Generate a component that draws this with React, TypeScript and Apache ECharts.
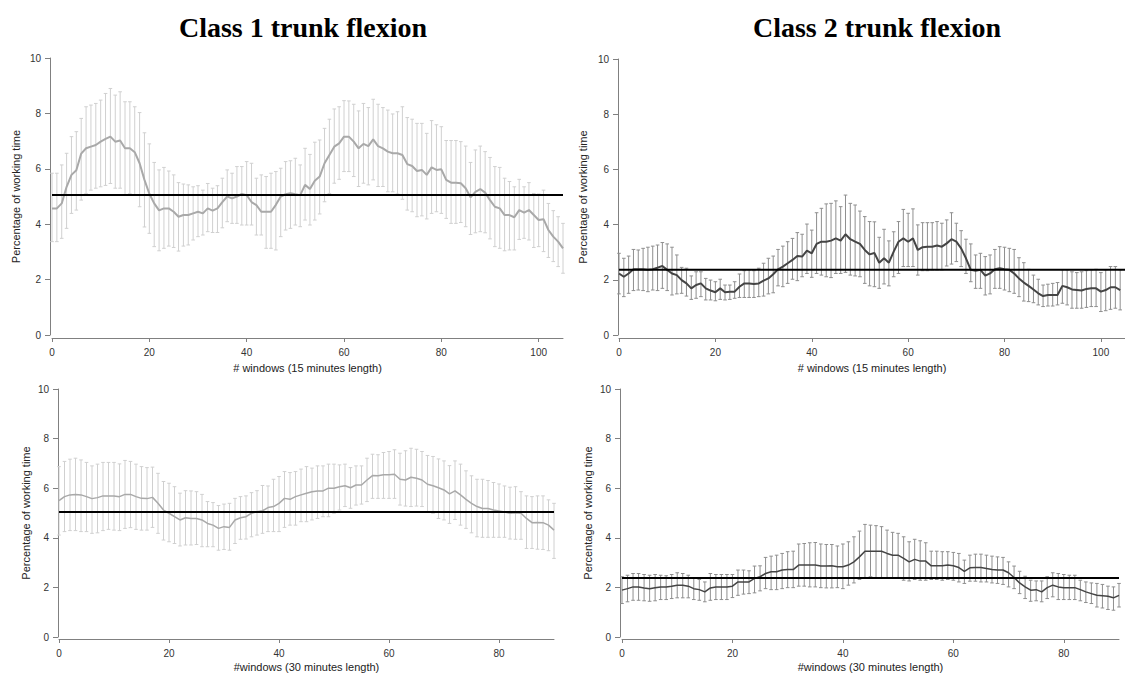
import React, { useEffect, useRef } from "react";
import * as echarts from "echarts";

// ---------- DATA ----------
// Class 1, 15-minute windows (x = 0..105)
const c1w15Mean = [
  4.57, 4.57, 4.75, 5.35, 5.78, 5.95, 6.55, 6.74, 6.8, 6.86, 6.98, 7.08, 7.16, 6.98, 7.02, 6.74, 6.74, 6.6, 6.2, 5.6,
  5.1, 4.75, 4.5, 4.57, 4.57, 4.45, 4.27, 4.33, 4.33, 4.39, 4.45, 4.39, 4.57, 4.49, 4.57, 4.8, 5.0, 4.93, 5.0, 5.09,
  5.05, 4.8, 4.69, 4.45, 4.45, 4.45, 4.7, 5.0, 5.08, 5.12, 5.08, 5.05, 5.42, 5.27, 5.57, 5.72, 6.2, 6.5, 6.8, 6.92,
  7.16, 7.16, 6.98, 6.74, 6.9, 6.82, 7.06, 6.82, 6.74, 6.62, 6.56, 6.56, 6.5, 6.17, 6.1, 5.92, 5.96, 5.78, 6.05, 5.96,
  5.98, 5.6, 5.5, 5.5, 5.48, 5.3, 4.97, 5.17, 5.27, 5.14, 4.87, 4.63, 4.57, 4.33, 4.33, 4.25, 4.51, 4.42, 4.51, 4.33,
  4.15, 4.18, 3.79, 3.55, 3.37, 3.13,
];
const c1w15Upper = [
  5.84, 5.84, 6.14, 6.56, 7.16, 7.34, 7.82, 8.24, 8.3, 8.36, 8.48, 8.72, 8.9, 8.66, 8.78, 8.42, 8.42, 8.24, 8.03, 7.3,
  6.9, 6.23, 5.96, 6.05, 5.92, 5.78, 5.5, 5.45, 5.42, 5.35, 5.39, 5.23, 5.47, 5.3, 5.39, 5.66, 5.96, 5.84, 6.08, 6.08,
  6.26, 6.2, 5.66, 5.78, 5.72, 5.84, 5.9, 6.02, 6.26, 6.29, 6.38, 6.14, 6.74, 6.52, 6.96, 7.04, 7.46, 7.79, 8.16, 8.24,
  8.46, 8.45, 8.33, 8.09, 8.36, 8.21, 8.51, 8.33, 8.21, 8.12, 7.98, 8.06, 8.24, 7.85, 7.79, 7.64, 7.64, 7.28, 7.74, 7.59,
  7.52, 7.02, 7.02, 7.02, 6.98, 6.82, 6.23, 6.68, 6.82, 6.62, 6.41, 6.08, 6.05, 5.66, 5.54, 5.35, 5.62, 5.35, 5.5, 5.11,
  5.09, 5.23, 4.75, 4.49, 4.27, 4.03,
];
const c1w15Lower = [
  3.37, 3.37, 3.49, 3.85, 4.39, 4.51, 4.87, 5.1, 5.23, 5.3, 5.35, 5.4, 5.47, 5.3, 5.3, 5.05, 5.1, 5.05, 4.63, 3.9,
  3.67, 3.19, 3.04, 3.13, 3.21, 3.16, 3.03, 3.21, 3.25, 3.43, 3.55, 3.61, 3.73, 3.7, 3.7, 3.87, 4.09, 4.03, 4.03, 3.97,
  3.97, 3.97, 3.61, 3.61, 3.13, 3.13, 3.07, 3.55, 3.79, 3.85, 3.97, 3.91, 4.15, 3.97, 4.15, 4.37, 4.81, 5.11, 5.48, 5.62,
  5.9, 5.9, 5.72, 5.36, 5.48, 5.42, 5.6, 5.36, 5.36, 5.17, 5.17, 5.09, 4.9, 4.51, 4.45, 4.27, 4.3, 4.19, 4.39, 4.45,
  4.39, 4.21, 4.03, 4.03, 4.06, 3.91, 3.63, 3.69, 3.73, 3.69, 3.47, 3.19, 3.13, 3.04, 3.07, 3.07, 3.45, 3.49, 3.43, 3.16,
  3.19, 3.01, 2.8, 2.65, 2.47, 2.23,
];
const c1w15Ref = 5.05;

// Class 2, 15-minute windows (x = 0..104 visible)
const c2w15Mean = [
  2.23, 2.11, 2.23, 2.38, 2.38, 2.38, 2.36, 2.38, 2.44, 2.5, 2.36, 2.23, 2.17, 1.99, 1.87, 1.69, 1.81, 1.87, 1.69, 1.61,
  1.55, 1.69, 1.55, 1.57, 1.57, 1.75, 1.87, 1.87, 1.85, 1.87, 1.97, 2.05, 2.2, 2.38, 2.48, 2.6, 2.72, 2.86, 2.84, 3.06,
  2.96, 3.3, 3.38, 3.38, 3.42, 3.5, 3.42, 3.65, 3.47, 3.38, 3.3, 3.08, 2.92, 2.97, 2.62, 2.78, 2.62, 3.02, 3.38, 3.5,
  3.38, 3.5, 3.08, 3.18, 3.2, 3.2, 3.24, 3.2, 3.32, 3.47, 3.38, 3.14, 2.78, 2.36, 2.33, 2.36, 2.15, 2.23, 2.38, 2.42,
  2.38, 2.36, 2.23, 2.05, 1.9, 1.78, 1.65, 1.51, 1.41, 1.45, 1.45, 1.45, 1.78, 1.73, 1.65, 1.63, 1.61, 1.67, 1.69, 1.69,
  1.57, 1.63, 1.73, 1.73, 1.63,
];
const c2w15Upper = [
  2.96, 2.78, 2.86, 3.1, 3.08, 3.14, 3.18, 3.22, 3.26, 3.35, 3.3, 3.18, 2.9, 2.45, 2.42, 2.14, 2.29, 2.29, 2.05, 1.99,
  1.93, 2.02, 1.81, 1.81, 1.93, 2.21, 2.33, 2.36, 2.33, 2.42, 2.6, 2.78, 2.86, 3.1, 3.22, 3.38, 3.5, 3.71, 3.65, 4.02,
  3.8, 4.43, 4.59, 4.75, 4.77, 4.86, 4.65, 5.07, 4.77, 4.71, 4.49, 4.29, 4.11, 4.1, 3.54, 3.83, 3.41, 3.74, 4.11, 4.55,
  4.41, 4.57, 3.99, 4.07, 4.07, 4.07, 4.11, 4.05, 4.17, 4.43, 4.05, 3.78, 3.47, 3.3, 2.9, 2.96, 2.84, 2.9, 3.1, 3.2,
  3.18, 3.14, 3.1, 2.8, 2.62, 2.38, 2.17, 2.02, 1.81, 1.84, 1.87, 1.9, 2.36, 2.36, 2.29, 2.26, 2.29, 2.33, 2.36, 2.38,
  2.26, 2.36, 2.48, 2.48, 2.36,
];
const c2w15Lower = [
  1.49, 1.39, 1.51, 1.61, 1.63, 1.61, 1.57, 1.63, 1.61, 1.69, 1.61, 1.45, 1.49, 1.51, 1.41, 1.29, 1.33, 1.39, 1.27, 1.27,
  1.24, 1.29, 1.27, 1.29, 1.33, 1.36, 1.36, 1.36, 1.36, 1.39, 1.41, 1.49, 1.53, 1.78, 1.75, 1.87, 2.02, 1.97, 2.11, 2.23,
  2.09, 2.23, 2.17, 2.11, 2.08, 2.23, 2.23, 2.27, 2.17, 2.14, 2.11, 1.87, 1.78, 1.75, 1.69, 1.85, 1.78, 2.11, 2.23, 2.48,
  2.48, 2.48, 2.17, 2.33, 2.33, 2.36, 2.36, 2.36, 2.5, 2.57, 2.66, 2.48, 2.23, 1.93, 1.69, 1.69, 1.45, 1.49, 1.69, 1.69,
  1.63, 1.57, 1.51, 1.39, 1.23, 1.21, 1.17, 1.09, 1.03, 1.05, 1.05, 1.09, 1.15, 1.09, 0.97, 0.97, 0.97, 1.0, 1.03, 1.03,
  0.85, 0.88, 0.93, 0.97, 0.91,
];
const c2w15Ref = 2.36;

// Class 1, 30-minute windows (x = 0..90)
const c1w30Mean = [
  5.5, 5.66, 5.73, 5.75, 5.73, 5.66, 5.58, 5.62, 5.69, 5.69, 5.69, 5.66, 5.75, 5.75, 5.66, 5.59, 5.58, 5.63, 5.39, 5.12,
  4.99, 4.85, 4.72, 4.81, 4.78, 4.78, 4.72, 4.58, 4.51, 4.38, 4.45, 4.42, 4.72, 4.81, 4.85, 4.99, 5.05, 5.09, 5.22, 5.26,
  5.39, 5.59, 5.55, 5.66, 5.73, 5.8, 5.86, 5.89, 5.89, 6.0, 6.0, 6.06, 6.1, 6.02, 6.13, 6.13, 6.33, 6.51, 6.5, 6.54,
  6.54, 6.56, 6.36, 6.33, 6.44, 6.4, 6.33, 6.16, 6.1, 6.02, 5.93, 5.77, 5.89, 5.73, 5.55, 5.39, 5.26, 5.18, 5.18, 5.12,
  5.08, 5.04, 4.99, 5.01, 4.99, 4.78, 4.61, 4.62, 4.61, 4.51, 4.31,
];
const c1w30Upper = [
  6.87, 7.08, 7.17, 7.21, 7.14, 7.04, 6.9, 6.97, 7.04, 7.04, 7.04, 6.98, 7.12, 7.08, 6.97, 6.87, 6.83, 6.85, 6.6, 6.27,
  6.2, 6.06, 5.8, 5.9, 5.89, 5.86, 5.75, 5.46, 5.42, 5.3, 5.36, 5.39, 5.59, 5.66, 5.69, 5.82, 5.9, 6.11, 6.09, 6.36,
  6.47, 6.67, 6.63, 6.67, 6.77, 6.87, 6.81, 6.9, 6.9, 6.97, 6.97, 6.94, 6.97, 6.83, 6.9, 6.9, 7.21, 7.37, 7.35, 7.44,
  7.48, 7.55, 7.41, 7.51, 7.61, 7.57, 7.48, 7.32, 7.28, 7.18, 7.1, 6.91, 7.1, 6.97, 6.7, 6.5, 6.36, 6.36, 6.31, 6.23,
  6.17, 6.09, 6.04, 6.06, 5.86, 5.69, 5.66, 5.69, 5.69, 5.53, 5.39,
];
const c1w30Lower = [
  4.11, 4.25, 4.29, 4.29, 4.25, 4.25, 4.18, 4.2, 4.29, 4.34, 4.31, 4.29, 4.38, 4.41, 4.34, 4.31, 4.31, 4.42, 4.18, 3.91,
  3.84, 3.77, 3.67, 3.71, 3.71, 3.73, 3.64, 3.64, 3.64, 3.5, 3.53, 3.5, 3.77, 3.94, 3.95, 4.04, 4.11, 4.18, 4.25, 4.25,
  4.25, 4.42, 4.51, 4.51, 4.65, 4.65, 4.72, 4.78, 4.85, 4.85, 4.99, 5.12, 5.26, 5.19, 5.32, 5.36, 5.46, 5.59, 5.59, 5.59,
  5.59, 5.59, 5.32, 5.28, 5.26, 5.28, 5.26, 5.05, 4.99, 4.78, 4.72, 4.58, 4.74, 4.51, 4.38, 4.2, 4.04, 4.02, 4.02, 4.02,
  4.02, 4.02, 3.95, 3.94, 3.94, 3.57, 3.57, 3.54, 3.53, 3.48, 3.17,
];
const c1w30Ref = 5.04;

// Class 2, 30-minute windows (x = 0..90)
const c2w30Mean = [
  1.89, 1.95, 2.02, 2.02, 1.98, 1.95, 1.99, 2.02, 2.02, 2.05, 2.09, 2.09, 2.05, 1.95, 1.91, 1.82, 1.98, 2.02, 2.02, 2.02,
  2.05, 2.22, 2.22, 2.22, 2.36, 2.43, 2.56, 2.63, 2.63, 2.7, 2.72, 2.72, 2.9, 2.9, 2.9, 2.9, 2.86, 2.86, 2.87, 2.83,
  2.83, 2.9, 3.03, 3.23, 3.46, 3.46, 3.46, 3.46, 3.37, 3.3, 3.3, 3.17, 3.03, 3.13, 3.06, 3.06, 2.87, 2.87, 2.87, 2.9,
  2.87, 2.8, 2.65, 2.79, 2.8, 2.8, 2.76, 2.72, 2.7, 2.7, 2.59, 2.4, 2.18, 2.02, 1.89, 1.91, 1.82, 1.99, 2.09, 2.02,
  1.99, 1.99, 1.99, 1.91, 1.82, 1.75, 1.68, 1.66, 1.64, 1.58, 1.68,
];
const c2w30Upper = [
  2.43, 2.49, 2.56, 2.56, 2.52, 2.49, 2.52, 2.49, 2.47, 2.52, 2.59, 2.56, 2.49, 2.36, 2.32, 2.22, 2.56, 2.52, 2.52, 2.52,
  2.52, 2.7, 2.7, 2.67, 2.86, 2.87, 3.21, 3.26, 3.3, 3.37, 3.44, 3.46, 3.75, 3.77, 3.8, 3.81, 3.75, 3.73, 3.73, 3.67,
  3.75, 3.84, 4.04, 4.27, 4.54, 4.51, 4.49, 4.45, 4.31, 4.22, 4.18, 4.04, 3.84, 3.94, 3.88, 3.8, 3.46, 3.46, 3.44, 3.44,
  3.41, 3.37, 3.1, 3.3, 3.34, 3.34, 3.3, 3.26, 3.23, 3.21, 3.03, 2.86, 2.65, 2.45, 2.29, 2.26, 2.26, 2.43, 2.59, 2.56,
  2.52, 2.49, 2.49, 2.29, 2.22, 2.18, 2.16, 2.12, 2.05, 2.02, 2.16,
];
const c2w30Lower = [
  1.35, 1.42, 1.48, 1.48, 1.46, 1.44, 1.46, 1.51, 1.51, 1.55, 1.58, 1.58, 1.58, 1.51, 1.48, 1.42, 1.48, 1.51, 1.51, 1.51,
  1.59, 1.68, 1.73, 1.75, 1.78, 1.86, 1.95, 1.91, 1.91, 1.95, 1.99, 1.99, 2.05, 2.05, 2.02, 2.02, 1.99, 1.98, 1.98, 1.99,
  1.95, 2.09, 2.18, 2.32, 2.4, 2.43, 2.4, 2.4, 2.36, 2.36, 2.4, 2.29, 2.26, 2.32, 2.29, 2.29, 2.32, 2.32, 2.29, 2.32,
  2.29, 2.22, 2.16, 2.25, 2.25, 2.22, 2.22, 2.18, 2.16, 2.12, 2.02, 1.95, 1.75, 1.55, 1.44, 1.46, 1.42, 1.55, 1.62, 1.51,
  1.51, 1.51, 1.51, 1.46, 1.39, 1.35, 1.21, 1.17, 1.11, 1.08, 1.21,
];
const c2w30Ref = 2.38;

const titles = ["Class 1 trunk flexion", "Class 2 trunk flexion"];
const yName = "Percentage of working time";
const xName15 = "# windows (15 minutes length)";
const xName30 = "#windows (30 minutes length)";
const yTicks = [0, 2, 4, 6, 8, 10];
const xTicks15 = [0, 20, 40, 60, 80, 100];
const xTicks30 = [0, 20, 40, 60, 80];

// ---------- LAYOUT / STYLE ----------
const SANS = "'Liberation Sans', Arial, sans-serif";
const LIGHT = { line: "#a9a9a9", bar: "#d0d0d0" };
const DARK = { line: "#444444", bar: "#8f8f8f" };

const panels = [
  {
    mean: c1w15Mean, upper: c1w15Upper, lower: c1w15Lower, ref: c1w15Ref,
    xMax: 105, xName: xName15, xTicks: xTicks15, colors: LIGHT, lineWidth: 2,
    grid: { left: 52, top: 58, width: 511, height: 277 }, xOff: 3, yOff: 2, yNameGap: 29, xNameGap: 24,
  },
  {
    mean: c2w15Mean, upper: c2w15Upper, lower: c2w15Lower, ref: c2w15Ref,
    xMax: 105, xName: xName15, xTicks: xTicks15, colors: DARK, lineWidth: 2,
    grid: { left: 619, top: 59, width: 511, height: 276 }, xOff: 3, yOff: 1, yNameGap: 30, xNameGap: 24,
  },
  {
    mean: c1w30Mean, upper: c1w30Upper, lower: c1w30Lower, ref: c1w30Ref,
    xMax: 90, xName: xName30, xTicks: xTicks30, colors: LIGHT, lineWidth: 1.5,
    grid: { left: 59, top: 389, width: 495, height: 248 }, xOff: 2, yOff: 1, yNameGap: 27, xNameGap: 22,
  },
  {
    mean: c2w30Mean, upper: c2w30Upper, lower: c2w30Lower, ref: c2w30Ref,
    xMax: 90, xName: xName30, xTicks: xTicks30, colors: DARK, lineWidth: 1.5,
    grid: { left: 622, top: 389, width: 497, height: 248 }, xOff: 2, yOff: 2, yNameGap: 27, xNameGap: 22,
  },
];

function buildOption() {
  const grid: any[] = [];
  const xAxis: any[] = [];
  const yAxis: any[] = [];
  const series: any[] = [];

  panels.forEach((p, i) => {
    grid.push({ ...p.grid, containLabel: false });
    xAxis.push({
      gridIndex: i,
      type: "value",
      min: 0,
      max: p.xMax,
      interval: 20,
      offset: p.xOff,
      name: p.xName,
      nameLocation: "middle",
      nameGap: p.xNameGap,
      nameTextStyle: { fontFamily: SANS, fontSize: 11, color: "#222" },
      axisLine: { show: true, onZero: false, lineStyle: { color: "#808080", width: 1 } },
      axisTick: { show: true, length: 4, lineStyle: { color: "#808080" }, customValues: p.xTicks },
      axisLabel: { margin: 9, fontFamily: SANS, fontSize: 10, color: "#333", customValues: p.xTicks },
      splitLine: { show: false },
    });
    yAxis.push({
      gridIndex: i,
      type: "value",
      min: 0,
      max: 10,
      interval: 2,
      offset: p.yOff,
      name: yName,
      nameLocation: "middle",
      nameGap: p.yNameGap,
      nameTextStyle: { fontFamily: SANS, fontSize: 11, color: "#222" },
      axisLine: { show: true, onZero: false, lineStyle: { color: "#808080", width: 1 } },
      axisTick: { show: true, length: 5, lineStyle: { color: "#808080" }, customValues: yTicks },
      axisLabel: { margin: 9, fontFamily: SANS, fontSize: 10, color: "#333", customValues: yTicks },
      splitLine: { show: false },
    });

    const barColor = p.colors.bar;
    series.push({
      type: "custom",
      xAxisIndex: i,
      yAxisIndex: i,
      z: 2,
      silent: true,
      encode: { x: 0, y: [1, 2] },
      data: p.mean.map((_, k) => [k, p.lower[k], p.upper[k]]),
      renderItem: (_params: any, api: any) => {
        const x = api.value(0);
        const lo = api.coord([x, api.value(1)]);
        const hi = api.coord([x, api.value(2)]);
        const c = 1.8;
        const style = { stroke: barColor, lineWidth: 1 };
        return {
          type: "group",
          children: [
            { type: "line", shape: { x1: lo[0], y1: lo[1], x2: hi[0], y2: hi[1] }, style },
            { type: "line", shape: { x1: hi[0] - c, y1: hi[1], x2: hi[0] + c, y2: hi[1] }, style },
            { type: "line", shape: { x1: lo[0] - c, y1: lo[1], x2: lo[0] + c, y2: lo[1] }, style },
          ],
        };
      },
    });
    series.push({
      type: "line",
      xAxisIndex: i,
      yAxisIndex: i,
      z: 3,
      silent: true,
      symbol: "none",
      showSymbol: false,
      data: p.mean.map((v, k) => [k, v]),
      lineStyle: { color: p.colors.line, width: p.lineWidth },
    });
    series.push({
      type: "line",
      xAxisIndex: i,
      yAxisIndex: i,
      z: 4,
      silent: true,
      symbol: "none",
      showSymbol: false,
      data: [[0, p.ref], [p.xMax, p.ref]],
      lineStyle: { color: "#000", width: 2 },
    });
  });

  const graphic = [
    {
      type: "text",
      x: 303,
      y: 27,
      style: {
        text: titles[0],
        fill: "#000",
        font: "bold 28px 'Liberation Serif', serif",
        align: "center",
        verticalAlign: "middle",
      },
    },
    {
      type: "text",
      x: 877,
      y: 27,
      style: {
        text: titles[1],
        fill: "#000",
        font: "bold 28px 'Liberation Serif', serif",
        align: "center",
        verticalAlign: "middle",
      },
    },
  ];

  return {
    animation: false,
    backgroundColor: "#fff",
    grid,
    xAxis,
    yAxis,
    series,
    graphic,
  };
}

export default function App() {
  const ref = useRef<HTMLDivElement>(null);
  useEffect(() => {
    if (!ref.current) return;
    const chart = echarts.init(ref.current, undefined, { renderer: "svg" });
    chart.setOption(buildOption() as any);
    return () => chart.dispose();
  }, []);
  return (
    <div
      ref={ref}
      style={{ position: "fixed", left: 0, top: 0, width: 1125, height: 675, background: "#fff" }}
    />
  );
}
